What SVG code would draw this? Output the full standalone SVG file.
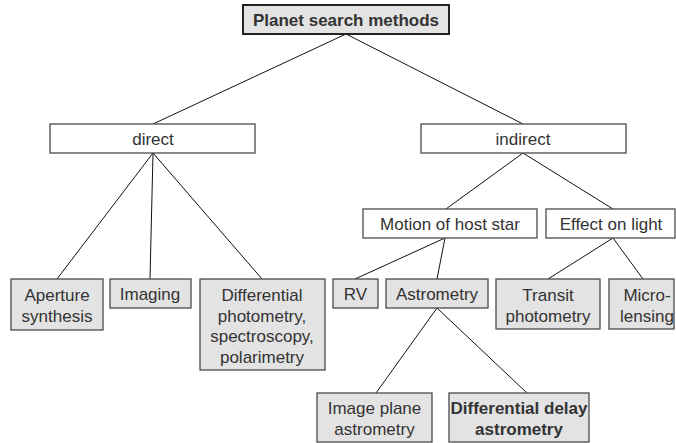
<svg xmlns="http://www.w3.org/2000/svg" width="676" height="443" viewBox="0 0 676 443">
<style>
.g{fill:#e3e3e3;stroke:#4a4a4a;stroke-width:1.3}
.w{fill:#ffffff;stroke:#4a4a4a;stroke-width:1.3}
.t{font-family:"Liberation Sans",Arial,sans-serif;font-size:17px;fill:#333;text-anchor:middle}
.b{font-weight:bold}
.c line{stroke:#111;stroke-width:1}
</style>
<rect width="676" height="443" fill="#fff"/>
<g class="c" id="connectors">
<line x1="346" y1="34" x2="153" y2="124"/>
<line x1="346" y1="34" x2="523" y2="124"/>
<line x1="153" y1="153" x2="57" y2="279"/>
<line x1="153" y1="153" x2="150" y2="279"/>
<line x1="153" y1="153" x2="262" y2="279"/>
<line x1="523" y1="153" x2="446" y2="209"/>
<line x1="523" y1="153" x2="613" y2="209"/>
<line x1="445" y1="238" x2="355" y2="279"/>
<line x1="445" y1="238" x2="437" y2="279"/>
<line x1="613" y1="238" x2="548" y2="279"/>
<line x1="613" y1="238" x2="643" y2="279"/>
<line x1="437" y1="308" x2="376" y2="393"/>
<line x1="437" y1="308" x2="527" y2="393"/>
</g>
<g id="root"><rect class="g" x="243" y="5" width="206" height="29" stroke-width="2" style="stroke:#222;stroke-width:2"/><text class="t b" x="346" y="26">Planet search methods</text></g>
<g id="direct"><rect class="w" x="50" y="124" width="205" height="29"/><text class="t" x="153" y="145">direct</text></g>
<g id="indirect"><rect class="w" x="421" y="124" width="205" height="29"/><text class="t" x="523" y="145">indirect</text></g>
<g id="motion"><rect class="w" x="363" y="209" width="174" height="29"/><text class="t" x="450" y="230">Motion of host star</text></g>
<g id="effect"><rect class="w" x="546" y="209" width="129" height="29"/><text class="t" x="611" y="230">Effect on light</text></g>
<g id="aperture"><rect class="g" x="11" y="279" width="92" height="51"/><text class="t" x="57" y="301">Aperture</text><text class="t" x="57" y="322">synthesis</text></g>
<g id="imaging"><rect class="g" x="110" y="279" width="81" height="29"/><text class="t" x="150" y="300">Imaging</text></g>
<g id="differential"><rect class="g" x="200" y="279" width="125" height="91"/><text class="t" x="262" y="301">Differential</text><text class="t" x="262" y="321.5">photometry,</text><text class="t" x="262" y="342">spectroscopy,</text><text class="t" x="262" y="362.5">polarimetry</text></g>
<g id="rv"><rect class="g" x="333" y="279" width="45" height="29"/><text class="t" x="355.5" y="300">RV</text></g>
<g id="astrometry"><rect class="g" x="386" y="279" width="102" height="29"/><text class="t" x="437" y="300">Astrometry</text></g>
<g id="transit"><rect class="g" x="496" y="279" width="104" height="50"/><text class="t" x="548" y="301">Transit</text><text class="t" x="548" y="322">photometry</text></g>
<g id="micro"><rect class="g" x="609" y="279" width="65" height="50"/><text class="t" x="647" y="301">Micro-</text><text class="t" x="647" y="322">lensing</text></g>
<g id="imageplane"><rect class="g" x="317" y="393" width="115" height="49"/><text class="t" x="374.5" y="414">Image plane</text><text class="t" x="374.5" y="435">astrometry</text></g>
<g id="delay"><rect class="g" x="449" y="393" width="140" height="49"/><text class="t b" x="519" y="414">Differential delay</text><text class="t b" x="519" y="435">astrometry</text></g>
</svg>
